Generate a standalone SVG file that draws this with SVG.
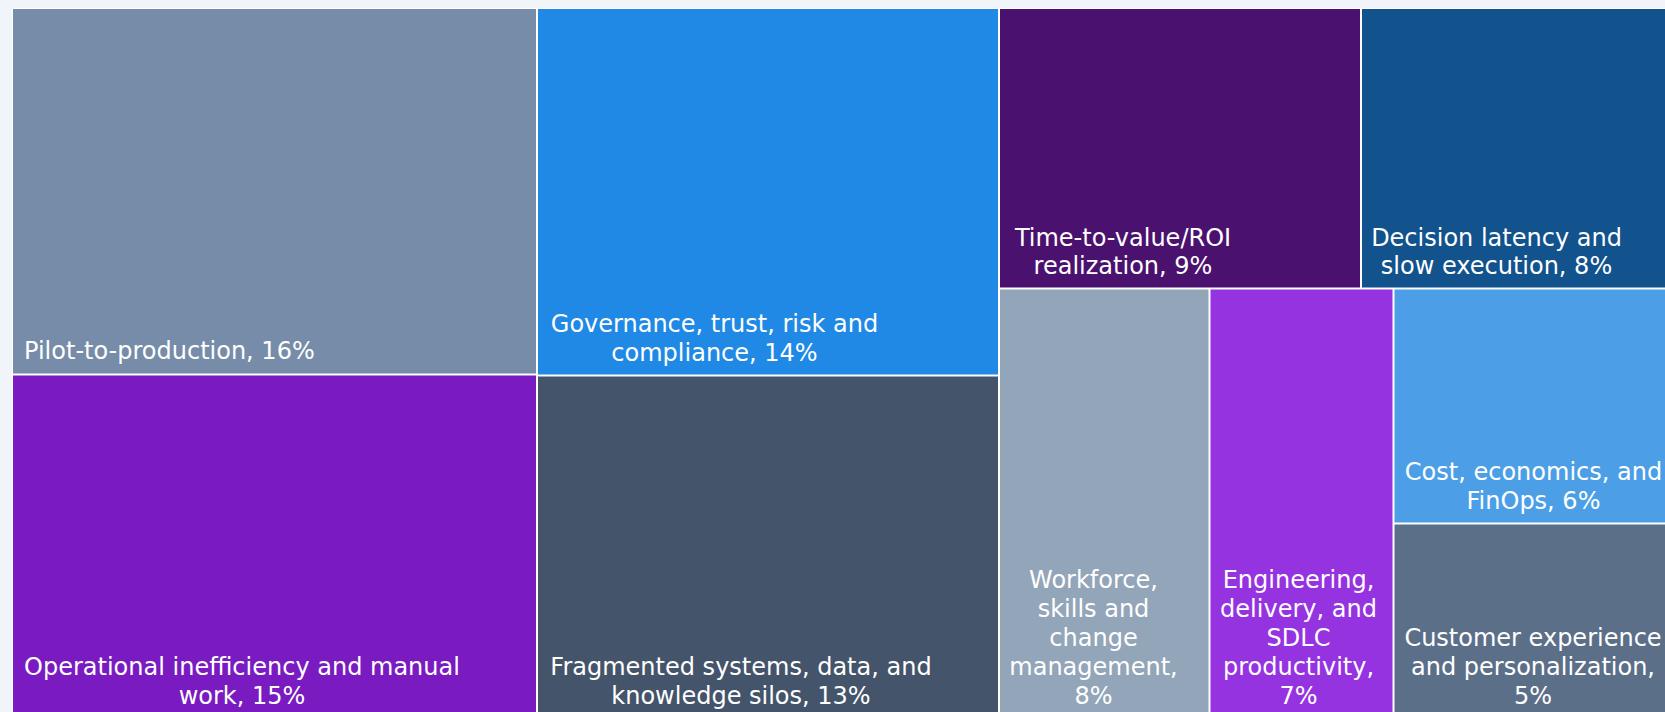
<svg xmlns="http://www.w3.org/2000/svg" width="1665" height="712" viewBox="0 0 1665 712">
<style>
.bg{fill:#f1f5f9}
.lbl{font-family:Verdana,"DejaVu Sans",sans-serif;font-size:24px;fill:#ffffff}
.c{text-anchor:middle}
</style>
<rect class="bg" x="0" y="0" width="1665" height="712"/>
<rect x="12" y="8" width="1653" height="704" fill="#ffffff"/>
<g id="pilot">
<rect x="13" y="9" width="523" height="364.5" fill="#778ca8"/>
<text class="lbl" x="24" y="359">Pilot-to-production, 16%</text>
</g>
<g id="operational">
<rect x="13" y="375.5" width="523" height="336.5" fill="#7a1bc1"/>
<text class="lbl c" x="242" y="675">Operational inefficiency and manual</text>
<text class="lbl c" x="242" y="704">work, 15%</text>
</g>
<g id="governance">
<rect x="538" y="9" width="460" height="365.5" fill="#1f89e5"/>
<text class="lbl c" x="714.5" y="332">Governance, trust, risk and</text>
<text class="lbl c" x="714.5" y="361">compliance, 14%</text>
</g>
<g id="fragmented">
<rect x="538" y="376.5" width="460" height="335.5" fill="#44546a"/>
<text class="lbl c" x="741" y="675">Fragmented systems, data, and</text>
<text class="lbl c" x="741" y="704">knowledge silos, 13%</text>
</g>
<g id="time-to-value">
<rect x="1000" y="9" width="360" height="278.5" fill="#4a126e"/>
<text class="lbl c" x="1123" y="245.5">Time-to-value/ROI</text>
<text class="lbl c" x="1123" y="274">realization, 9%</text>
</g>
<g id="decision">
<rect x="1362" y="9" width="303" height="278.5" fill="#12528d"/>
<text class="lbl c" x="1496.5" y="245.5">Decision latency and</text>
<text class="lbl c" x="1496.5" y="274">slow execution, 8%</text>
</g>
<g id="workforce">
<rect x="1000" y="289.5" width="208.5" height="422.5" fill="#93a5b9"/>
<text class="lbl c" x="1093.5" y="588">Workforce,</text>
<text class="lbl c" x="1093.5" y="617">skills and</text>
<text class="lbl c" x="1093.5" y="646">change</text>
<text class="lbl c" x="1093.5" y="675">management,</text>
<text class="lbl c" x="1093.5" y="704">8%</text>
</g>
<g id="engineering">
<rect x="1210.5" y="289.5" width="182" height="422.5" fill="#9633e1"/>
<text class="lbl c" x="1298.5" y="588">Engineering,</text>
<text class="lbl c" x="1298.5" y="617">delivery, and</text>
<text class="lbl c" x="1298.5" y="646">SDLC</text>
<text class="lbl c" x="1298.5" y="675">productivity,</text>
<text class="lbl c" x="1298.5" y="704">7%</text>
</g>
<g id="cost">
<rect x="1394.5" y="289.5" width="270.5" height="233" fill="#4c9fe6"/>
<text class="lbl c" x="1533.5" y="480">Cost, economics, and</text>
<text class="lbl c" x="1533.5" y="509">FinOps, 6%</text>
</g>
<g id="customer">
<rect x="1394.5" y="524.5" width="270.5" height="187.5" fill="#5c6f89"/>
<text class="lbl c" x="1533" y="646">Customer experience</text>
<text class="lbl c" x="1533" y="675">and personalization,</text>
<text class="lbl c" x="1533" y="704">5%</text>
</g>
<g id="connectors"/>
</svg>
